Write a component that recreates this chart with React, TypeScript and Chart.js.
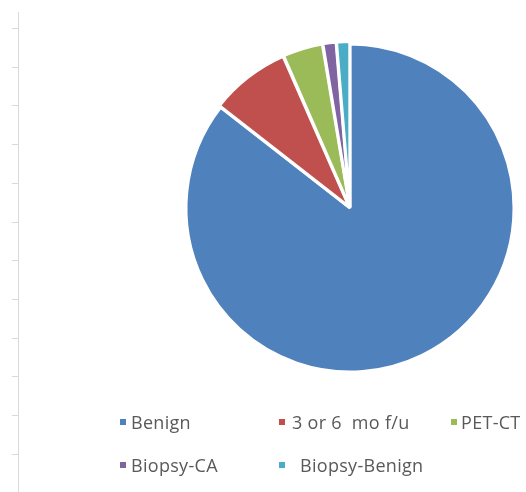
import React, { useEffect, useRef } from "react";
import { Chart, registerables } from "chart.js";

Chart.register(...registerables);

const categories = ["Benign", "3 or 6  mo f/u", "PET-CT", "Biopsy-CA", "Biopsy-Benign"];
const counts = [65, 6, 3, 1, 1];
const colors = ["#4F81BD", "#C0504D", "#9BBB59", "#8064A2", "#4BACC6"];
const offsets = [0, 5, 5, 5, 5];

// legend grid order (Excel-like columns)
const legendRows = [
  [0, 1, 2],
  [3, 4],
];

const leftRule = {
  id: "leftRule",
  afterDraw(chart: any) {
    const ctx = chart.ctx;
    ctx.save();
    ctx.strokeStyle = "#d9d9d9";
    ctx.lineWidth = 1;
    ctx.beginPath();
    ctx.moveTo(18.5, 12);
    ctx.lineTo(18.5, 492);
    for (let i = 0; i < 13; i++) {
      const y = Math.round(28 + i * 38.7) + 0.5;
      ctx.moveTo(12, y);
      ctx.lineTo(18.5, y);
    }
    ctx.stroke();
    ctx.restore();
  },
};

export default function App() {
  const ref = useRef<HTMLCanvasElement>(null);
  useEffect(() => {
    const chart = new Chart(ref.current!, {
      type: "pie",
      data: {
        labels: categories,
        datasets: [
          {
            data: counts,
            backgroundColor: colors,
            borderColor: "#ffffff",
            borderWidth: 3,
            offset: offsets,
            radius: 164,
          } as any,
        ],
      },
      options: {
        animation: false,
        responsive: false,
        layout: { padding: { left: 186, right: 12, top: 44, bottom: 120 } },
        plugins: {
          legend: { display: false },
          tooltip: { enabled: false },
        },
      },
      plugins: [leftRule],
    });
    return () => chart.destroy();
  }, []);

  const colLeft = [120, 279, 451];
  const textGap = [5, 7, 4];
  const rowTop = [412, 455];

  return (
    <div style={{ position: "absolute", left: 0, top: 0, width: 526, height: 492, background: "#fff", overflow: "hidden" }}>
      <canvas ref={ref} width={526} height={492} style={{ position: "absolute", left: 0, top: 0 }} />
      {legendRows.map((row, r) =>
        row.map((idx, c) => (
          <div
            key={idx}
            style={{
              position: "absolute",
              left: colLeft[c],
              top: rowTop[r],
              height: 20,
              display: "flex",
              alignItems: "center",
              fontFamily: "'Open Sans', sans-serif",
              fontSize: 18,
              letterSpacing: 0.3,
              color: "#595959",
              whiteSpace: "pre",
            }}
          >
            <span style={{ display: "inline-block", width: 6, height: 6, background: colors[idx], marginRight: textGap[c] + (idx === 4 ? 8 : 0) }} />
            <span>{categories[idx]}</span>
          </div>
        ))
      )}
    </div>
  );
}
